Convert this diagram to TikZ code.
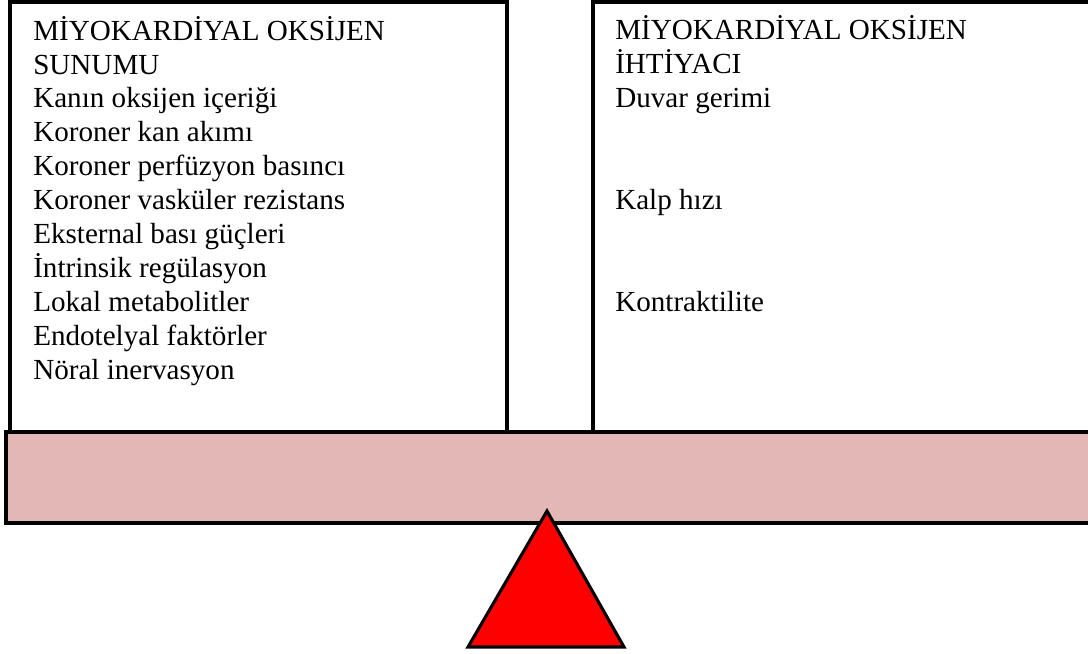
\documentclass[tikz,border=0pt]{standalone}
\usepackage{fontspec}
\setmainfont{Liberation Serif}
\definecolor{beamcolor}{RGB}{228,183,183}
\tikzset{
  listtext/.style={anchor=base west, align=left, inner sep=0pt, font=\fontsize{20.7}{24.1}\selectfont},
  frame/.style={draw, line width=2.2pt}
}
\begin{document}
\begin{tikzpicture}[x=0.025cm,y=-0.025cm]
\useasboundingbox (0,0) rectangle (1088,653);
\clip (0,0) rectangle (1088,653);
\path[frame] (10,2) rectangle (507,432);
\path[frame] (593,2) rectangle (1110,432);
\path[frame, line width=2.6pt, fill=beamcolor] (6,432) rectangle (1110,523);
\path[frame, fill=red, line join=miter] (547,511) -- (624,647) -- (468,647) -- cycle;
\node[listtext] (supply) at (33,379) {MİYOKARDİYAL OKSİJEN\\SUNUMU\\Kanın oksijen içeriği\\Koroner kan akımı\\Koroner perfüzyon basıncı\\Koroner vasküler rezistans\\Eksternal bası güçleri\\İntrinsik regülasyon\\Lokal metabolitler\\Endotelyal faktörler\\Nöral inervasyon};
\node[listtext] (demand) at (615,311) {MİYOKARDİYAL OKSİJEN\\İHTİYACI\\Duvar gerimi\\~\\~\\Kalp hızı\\~\\~\\Kontraktilite};
\end{tikzpicture}
\end{document}
